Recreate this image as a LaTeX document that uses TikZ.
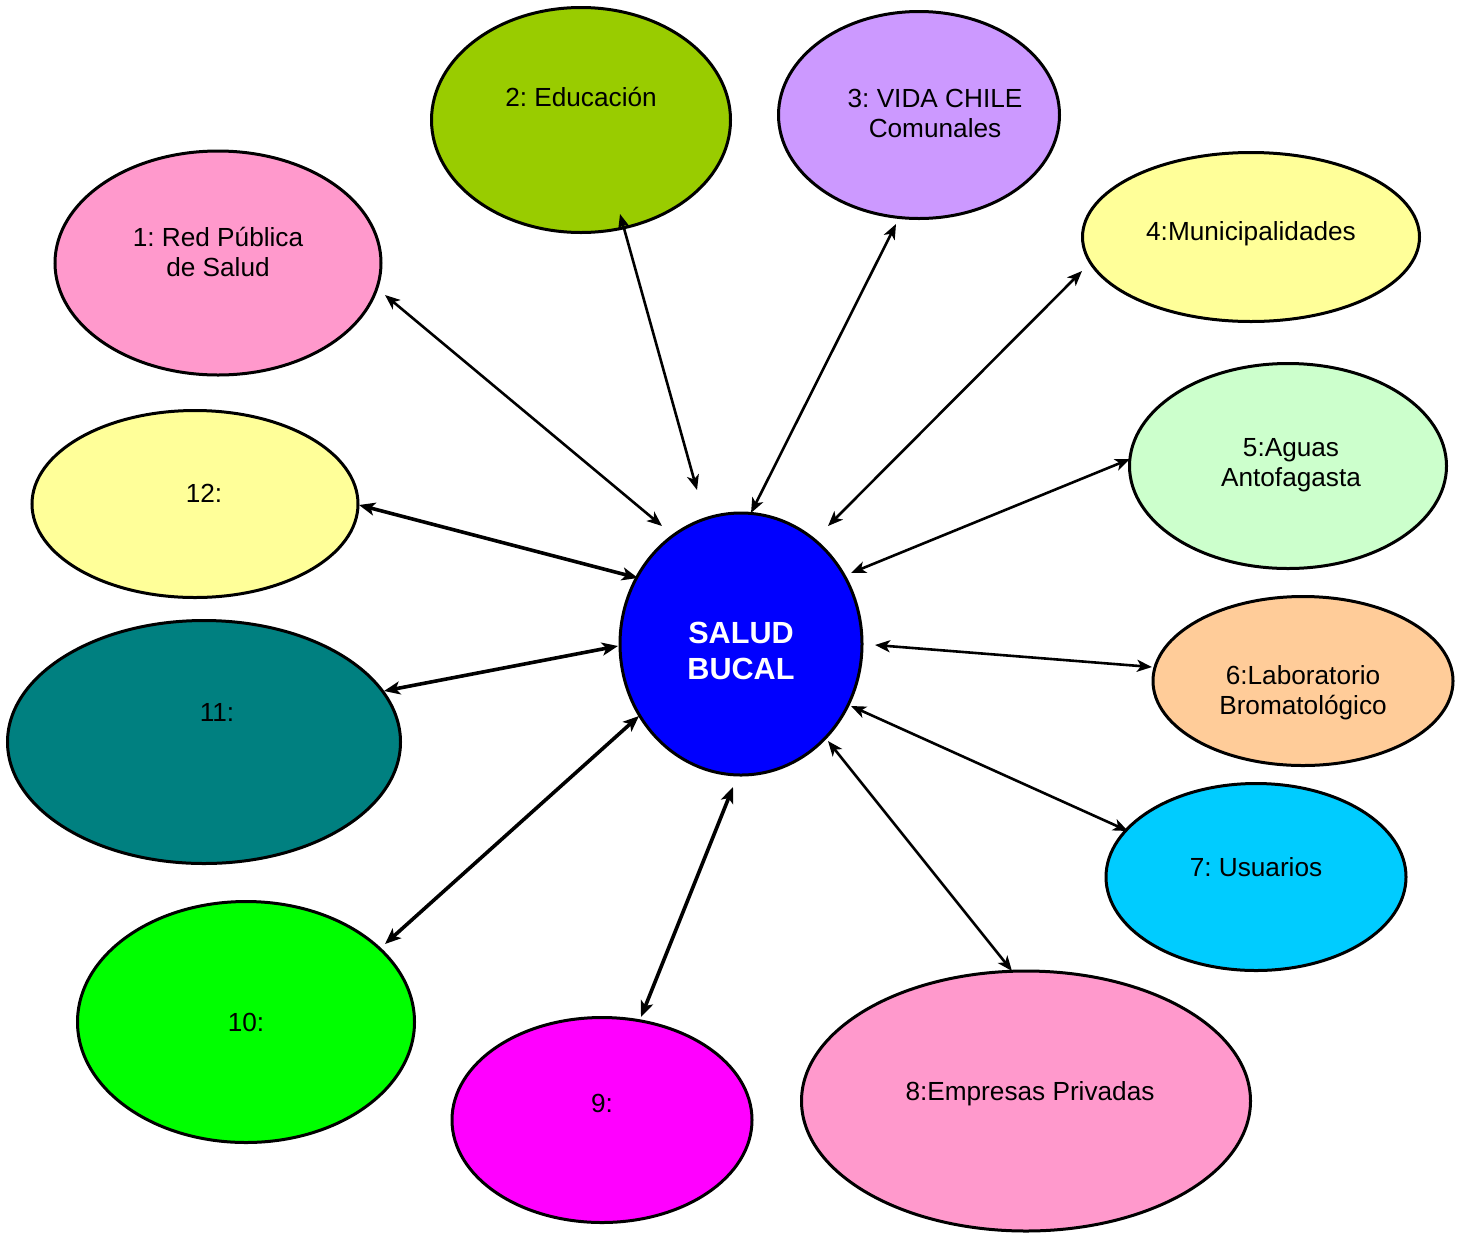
\documentclass[tikz,border=0pt]{standalone}
\usepackage{fontspec}
\setmainfont{Liberation Sans}
\frenchspacing
\usetikzlibrary{shapes.geometric,arrows.meta}
\tikzset{
  bubble/.style={ellipse, draw=black, line width=3pt, inner sep=0pt, minimum width=#1},
  lbl/.style={align=center, font=\fontsize{26.2pt}{30pt}\selectfont, inner sep=0pt},
  link/.style={{Stealth[length=15pt,width=12pt,inset=4pt]}-{Stealth[length=15pt,width=12pt,inset=4pt]}, line width=2.6pt},
  thicklink/.style={{Stealth[length=16pt,width=13pt,inset=4pt]}-{Stealth[length=16pt,width=13pt,inset=4pt]}, line width=3.6pt}
}
\begin{document}
\begin{tikzpicture}[x=1pt,y=-1pt]
\useasboundingbox (0,0) rectangle (1466,1232);
% ellipses
\node[bubble=242pt, minimum height=262pt, fill={rgb,255:red,0;green,0;blue,255}] (c) at (741,644) {};
\node[bubble=299pt, minimum height=225pt, fill={rgb,255:red,153;green,204;blue,0}] (e2) at (581,120) {};
\node[bubble=281pt, minimum height=207pt, fill={rgb,255:red,204;green,153;blue,255}] (e3) at (919,115) {};
\node[bubble=326pt, minimum height=224pt, fill={rgb,255:red,255;green,153;blue,204}] (e1) at (218,263) {};
\node[bubble=337pt, minimum height=169pt, fill={rgb,255:red,255;green,255;blue,153}] (e4) at (1251,237) {};
\node[bubble=317pt, minimum height=205pt, fill={rgb,255:red,204;green,255;blue,204}] (e5) at (1288,466) {};
\node[bubble=326pt, minimum height=187pt, fill={rgb,255:red,255;green,255;blue,153}] (e12) at (195,504) {};
\node[bubble=300pt, minimum height=169pt, fill={rgb,255:red,255;green,204;blue,153}] (e6) at (1303,681) {};
\node[bubble=393pt, minimum height=243pt, fill={rgb,255:red,0;green,128;blue,128}] (e11) at (204,742) {};
\node[bubble=300pt, minimum height=187pt, fill={rgb,255:red,0;green,204;blue,255}] (e7) at (1256,877) {};
\node[bubble=337pt, minimum height=241pt, fill={rgb,255:red,0;green,255;blue,0}] (e10) at (246,1022) {};
\node[bubble=300pt, minimum height=205pt, fill={rgb,255:red,255;green,0;blue,255}] (e9) at (602,1120) {};
\node[bubble=449pt, minimum height=260pt, fill={rgb,255:red,255;green,153;blue,204}] (e8) at (1026,1101) {};
% texts
\node[align=center, inner sep=0pt, text=white, font=\bfseries\fontsize{30.6pt}{36pt}\selectfont] (tc) at (741,651) {SALUD\\BUCAL};
\node[lbl] (t2) at (581,97) {2: Educación};
\node[lbl] (t3) at (935,113) {3: VIDA CHILE\\Comunales};
\node[lbl] (t1) at (218,252) {1: Red Pública\\de Salud};
\node[lbl] (t4) at (1251,234) {4:Municipalidades};
\node[lbl] (t5) at (1291,465) {5:Aguas\\Antofagasta};
\node[lbl] (t12) at (204,493) {12:};
\node[lbl] (t6) at (1303,693) {6:Laboratorio\\Bromatológico};
\node[lbl] (t11) at (217,712) {11:};
\node[lbl] (t7) at (1256,867) {7: Usuarios};
\node[lbl] (t10) at (246,1022) {10:};
\node[lbl] (t9) at (602,1103) {9:};
\node[lbl] (t8) at (1030,1094) {8:Empresas Privadas};
% connector end points
\coordinate (a1) at (385,295);  \coordinate (b1) at (662,526);
\coordinate (a2) at (620,214);  \coordinate (b2) at (697,490);
\coordinate (a3) at (896,224);  \coordinate (b3) at (751,513);
\coordinate (a4) at (1082,271); \coordinate (b4) at (828,526);
\coordinate (a5) at (1130,459); \coordinate (b5) at (851,573);
\coordinate (a6) at (1152,667); \coordinate (b6) at (875,645);
\coordinate (a7) at (1128,831); \coordinate (b7) at (851,706);
\coordinate (a8) at (1012,971); \coordinate (b8) at (828,741);
\coordinate (a9) at (641,1017); \coordinate (b9) at (733,787);
\coordinate (a10) at (385,944); \coordinate (b10) at (639,716);
\coordinate (a11) at (384,691); \coordinate (b11) at (618,646);
\coordinate (a12) at (359,505); \coordinate (b12) at (638,578);
% connectors
\draw[link] (a1) -- (b1);
\draw[link] (a2) -- (b2);
\draw[link] (a3) -- (b3);
\draw[link] (a4) -- (b4);
\draw[link] (a5) -- (b5);
\draw[link] (a6) -- (b6);
\draw[link] (a7) -- (b7);
\draw[link] (a8) -- (b8);
\draw[thicklink] (a9) -- (b9);
\draw[thicklink] (a10) -- (b10);
\draw[thicklink] (a11) -- (b11);
\draw[thicklink] (a12) -- (b12);
\end{tikzpicture}
\end{document}
